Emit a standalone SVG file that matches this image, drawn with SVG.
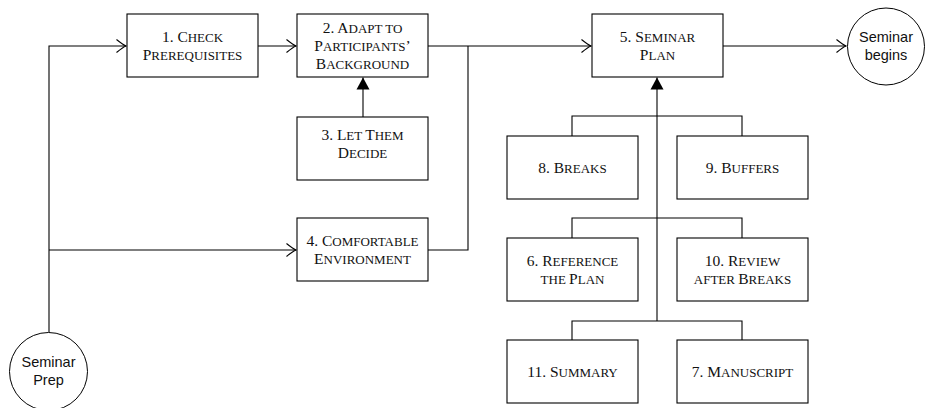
<svg xmlns="http://www.w3.org/2000/svg" width="925" height="408" viewBox="0 0 925 408">
<style>
.box{fill:#fff;stroke:#000;stroke-width:1.1}
.circ{fill:#fff;stroke:#000;stroke-width:1}
.t{font-family:"Liberation Serif","DejaVu Serif",serif;font-size:15.5px;text-anchor:middle;fill:#111}
.l{font-size:13px}
.s{font-family:"Liberation Sans","DejaVu Sans",sans-serif;font-size:14.5px;text-anchor:middle;fill:#111}
.c{fill:none;stroke:#000;stroke-width:1.1}
</style>
<defs>
<marker id="open" markerUnits="userSpaceOnUse" markerWidth="14" markerHeight="16" viewBox="-12 -8 14 16" refX="0" refY="0" orient="auto">
<path d="M-9.5,-6.5 Q-3,-1.2 0,0 Q-3,1.2 -9.5,6.5" fill="none" stroke="#000" stroke-width="1.1"/>
</marker>
<marker id="fill" markerUnits="userSpaceOnUse" markerWidth="14" markerHeight="16" viewBox="-13 -8 14 16" refX="0" refY="0" orient="auto">
<path d="M0,0 L-12,-6.5 L-12,6.5 Z" fill="#000"/>
</marker>
</defs>
<g id="connectors">
<path class="c" d="M49,332 V46 H126" marker-end="url(#open)"/>
<path class="c" d="M49,250 H296" marker-end="url(#open)"/>
<path class="c" d="M258,46 H296" marker-end="url(#open)"/>
<path class="c" d="M428,46 H591" marker-end="url(#open)"/>
<path class="c" d="M428,250 H468 V46"/>
<path class="c" d="M363,117 V77.5" marker-end="url(#fill)"/>
<path class="c" d="M723,46 H846" marker-end="url(#open)"/>
<path class="c" d="M657,321 V77.5" marker-end="url(#fill)"/>
<path class="c" d="M572,136 V116 H742 V136"/>
<path class="c" d="M572,238 V218 H742 V238"/>
<path class="c" d="M572,340 V321 H742 V340"/>
</g>
<g id="n1"><rect class="box" x="127" y="14" width="131" height="63"/><text class="t" x="192.5" y="41.5">1. C<tspan class="l">HECK</tspan></text><text class="t" x="192.5" y="59.5">P<tspan class="l">REREQUISITES</tspan></text></g>
<g id="n2"><rect class="box" x="297" y="14" width="131" height="63"/><text class="t" x="362.5" y="32.5">2. A<tspan class="l">DAPT TO</tspan></text><text class="t" x="362.5" y="50.5">P<tspan class="l">ARTICIPANTS</tspan>’</text><text class="t" x="362.5" y="68.5">B<tspan class="l">ACKGROUND</tspan></text></g>
<g id="n3"><rect class="box" x="297" y="117" width="131" height="63"/><text class="t" x="362.5" y="139.5">3. L<tspan class="l">ET </tspan>T<tspan class="l">HEM</tspan></text><text class="t" x="362.5" y="157.5">D<tspan class="l">ECIDE</tspan></text></g>
<g id="n4"><rect class="box" x="297" y="218" width="131" height="63"/><text class="t" x="362.5" y="245.5">4. C<tspan class="l">OMFORTABLE</tspan></text><text class="t" x="362.5" y="263.5">E<tspan class="l">NVIRONMENT</tspan></text></g>
<g id="n5"><rect class="box" x="592" y="14" width="131" height="63"/><text class="t" x="657.5" y="41.5">5. S<tspan class="l">EMINAR</tspan></text><text class="t" x="657.5" y="59.5">P<tspan class="l">LAN</tspan></text></g>
<g id="n8"><rect class="box" x="507" y="136" width="131" height="63"/><text class="t" x="572.5" y="172.5">8. B<tspan class="l">REAKS</tspan></text></g>
<g id="n9"><rect class="box" x="677" y="136" width="131" height="63"/><text class="t" x="742.5" y="172.5">9. B<tspan class="l">UFFERS</tspan></text></g>
<g id="n6"><rect class="box" x="507" y="238" width="131" height="63"/><text class="t" x="572.5" y="265.5">6. R<tspan class="l">EFERENCE</tspan></text><text class="t" x="572.5" y="283.5"><tspan class="l">THE </tspan>P<tspan class="l">LAN</tspan></text></g>
<g id="n10"><rect class="box" x="677" y="238" width="131" height="63"/><text class="t" x="742.5" y="265.5">10. R<tspan class="l">EVIEW</tspan></text><text class="t" x="742.5" y="283.5"><tspan class="l">AFTER </tspan>B<tspan class="l">REAKS</tspan></text></g>
<g id="n11"><rect class="box" x="507" y="340" width="131" height="63"/><text class="t" x="572.5" y="376.5">11. S<tspan class="l">UMMARY</tspan></text></g>
<g id="n7"><rect class="box" x="677" y="340" width="131" height="63"/><text class="t" x="742.5" y="376.5">7. M<tspan class="l">ANUSCRIPT</tspan></text></g>
<g id="begins"><circle class="circ" cx="886" cy="46.5" r="38.5"/><text class="s" x="886" y="42">Seminar</text><text class="s" x="886" y="60">begins</text></g>
<g id="prep"><circle class="circ" cx="48.5" cy="371.5" r="39"/><text class="s" x="48.5" y="367">Seminar</text><text class="s" x="48.5" y="385">Prep</text></g>
</svg>
